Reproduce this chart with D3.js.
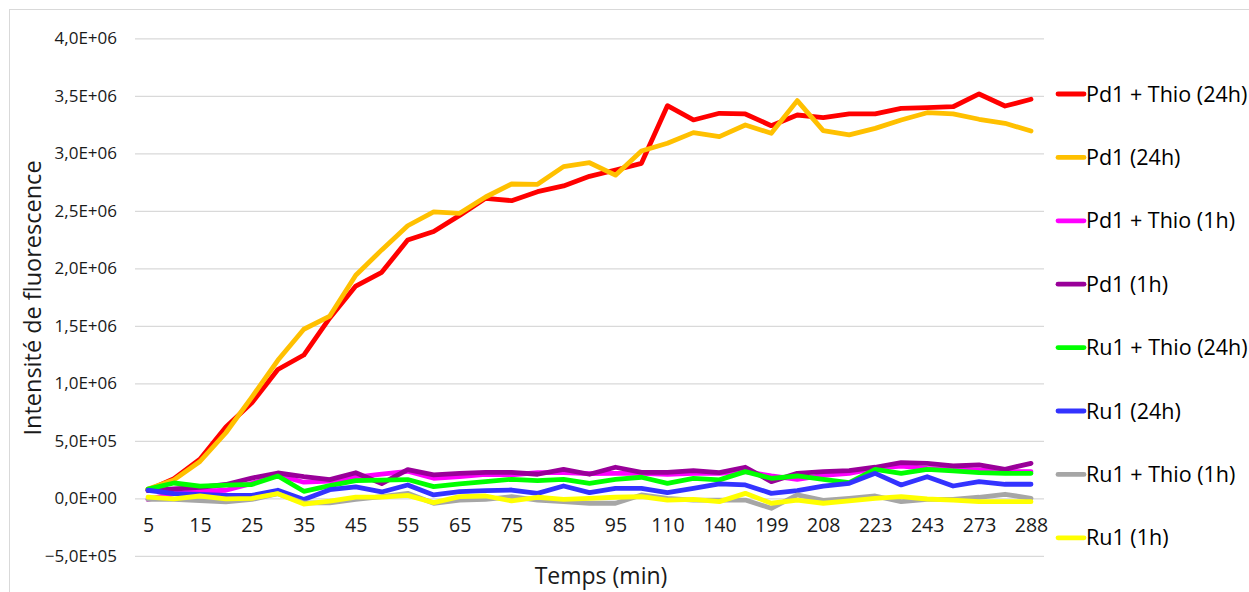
<!DOCTYPE html>
<html>
<head>
<meta charset="utf-8">
<script src="https://cdn.jsdelivr.net/npm/d3@7"></script>
<style>
  html, body { margin: 0; padding: 0; background: #fff; }
  svg { display: block; font-family: "Open Sans", "Noto Sans", sans-serif; }
</style>
</head>
<body>
<svg id="chart" width="1249" height="592"></svg>
<script>
// Sampling times (min); every other one is labelled on the axis
const times = ["5","10","15","20","25","30","35","40","45","50","55","60","65","70","75","80","85","90","95","100",
               "110","125","140","170","199","203","208","213","223","233","243","258","273","280","288"];

const seriesNames = ["Pd1 + Thio (24h)", "Pd1 (24h)", "Pd1 + Thio (1h)", "Pd1 (1h)",
                     "Ru1 + Thio (24h)", "Ru1 (24h)", "Ru1 + Thio (1h)", "Ru1 (1h)"];
const seriesColors = ["#ff0000", "#ffc000", "#ff00ff", "#990099", "#00ff00", "#3333ff", "#a6a6a6", "#ffff00"];

// Fluorescence intensity, in thousands
const pd1Thio24 = [70,170,340,620,830,1120,1246,1568,1846,1965,2246,2320,2460,2609,2588,2666,2716,2800,2855,2913,
                   3414,3290,3348,3342,3240,3333,3310,3342,3342,3390,3397,3405,3516,3411,3470];
const pd1_24 = [80,160,320,570,880,1200,1470,1585,1940,2160,2370,2490,2478,2620,2733,2730,2884,2918,2810,3020,
                3087,3180,3145,3246,3174,3458,3197,3160,3217,3290,3353,3342,3296,3261,3194];
const pd1Thio1 = [-10,40,60,70,130,200,140,150,185,210,235,174,188,209,203,223,223,215,217,217,
                  209,217,217,232,194,165,200,217,261,281,261,252,246,232,232];
const pd1_1 = [66,81,95,120,176,220,188,162,222,128,250,203,217,226,226,209,252,209,270,226,
               226,240,223,270,145,217,232,240,270,310,304,281,290,252,304];
const ru1Thio24 = [80,133,105,115,120,194,61,110,153,158,163,101,125,145,165,154,165,130,165,183,
                   130,174,160,232,174,194,165,136,252,217,252,238,223,217,217];
const ru1_24 = [70,40,35,25,25,70,-10,75,100,55,116,29,58,67,72,43,107,49,87,87,
                49,87,125,116,43,67,105,130,217,116,188,107,145,122,122];
const ru1Thio1 = [-10,-10,-20,-30,-10,40,-40,-40,-10,15,43,-43,-15,-9,14,-15,-29,-43,-43,29,
                  0,-15,-15,-15,-87,29,-18,0,20,-29,-9,-9,9,35,0];
const ru1_1 = [10,-5,20,-5,0,40,-50,-25,10,10,25,-38,14,20,-23,9,-9,0,9,14,
               -15,-9,-29,43,-43,-15,-43,-23,0,14,-6,-15,-29,-29,-29];

const yTicks = [-500000, 0, 500000, 1000000, 1500000, 2000000, 2500000, 3000000, 3500000, 4000000];

const seriesValues = [pd1Thio24, pd1_24, pd1Thio1, pd1_1, ru1Thio24, ru1_24, ru1Thio1, ru1_1];
const series = seriesNames.map((name, k) => ({
  name, color: seriesColors[k],
  values: seriesValues[k].map(v => v * 1000)
}));

const svg = d3.select("#chart");
const plot = { left: 135, right: 1044, top: 38.3, bottom: 555.8 };
const textColor = "#1a1a1a";

// Chart area frame
svg.append("rect")
  .attr("x", 9.5).attr("y", 9.5).attr("width", 1260).attr("height", 600)
  .attr("fill", "#fff").attr("stroke", "#d9d9d9").attr("stroke-width", 1);

const x = d3.scalePoint().domain(times).range([plot.left, plot.right]).padding(0.5);
const y = d3.scaleLinear().domain([-500000, 4000000]).range([plot.bottom, plot.top]);

const fmt = v => {
  if (v === 0) return "0,0E+00";
  const s = d3.format(".1e")(v);           // e.g. "4.0e+6"
  const [m, e] = s.split("e");
  const sign = e[0];
  const ex = e.slice(1).padStart(2, "0");
  return m.replace(".", ",") + "E" + sign + ex;
};

// Horizontal gridlines + value labels
const yAxis = d3.axisLeft(y).tickValues(yTicks).tickFormat(fmt)
  .tickSize(-(plot.right - plot.left)).tickPadding(18);
const gy = svg.append("g").attr("transform", `translate(${plot.left},0)`).call(yAxis);
gy.select(".domain").remove();
gy.selectAll(".tick line").attr("stroke", "#d9d9d9").attr("stroke-width", 1.3);
gy.selectAll(".tick text").attr("fill", textColor).style("font-size", "17px")
  .style("font-family", "'Open Sans', sans-serif");

// Category axis sitting on the zero line
const xAxis = d3.axisBottom(x)
  .tickValues(times.filter((t, i) => i % 2 === 0))
  .tickSize(0).tickPadding(20);
const gx = svg.append("g").attr("transform", `translate(0,${y(0)})`).call(xAxis);
gx.select(".domain").remove();
gx.selectAll(".tick text").attr("fill", textColor).style("font-size", "19.5px")
  .style("font-family", "'Open Sans', sans-serif");

// Series lines
const line = d3.line()
  .x((d, i) => x(times[i]))
  .y(d => y(d));

svg.append("g").selectAll("path")
  .data(series)
  .join("path")
  .attr("d", d => line(d.values))
  .attr("fill", "none")
  .attr("stroke", d => d.color)
  .attr("stroke-width", 4.8)
  .attr("stroke-linejoin", "round")
  .attr("stroke-linecap", "round");

// Axis titles
svg.append("text")
  .attr("transform", `translate(41,298) rotate(-90)`)
  .attr("text-anchor", "middle")
  .attr("fill", textColor)
  .style("font-size", "23.5px")
  .text("Intensité de fluorescence");

svg.append("text")
  .attr("x", 601)
  .attr("y", 584)
  .attr("text-anchor", "middle")
  .attr("fill", textColor)
  .style("font-size", "23px")
  .text("Temps (min)");

// Legend
const legend = svg.append("g");
const rows = legend.selectAll("g").data(series).join("g")
  .attr("transform", (d, i) => `translate(1058,${94 + i * 63.4})`);
rows.append("line")
  .attr("x1", 0).attr("x2", 26).attr("y1", 0).attr("y2", 0)
  .attr("stroke", d => d.color).attr("stroke-width", 4.8).attr("stroke-linecap", "round");
rows.append("text")
  .attr("x", 28).attr("y", 0).attr("dy", "0.35em")
  .attr("fill", "#000")
  .style("font-size", "21.5px")
  .text(d => d.name);
</script>
</body>
</html>
